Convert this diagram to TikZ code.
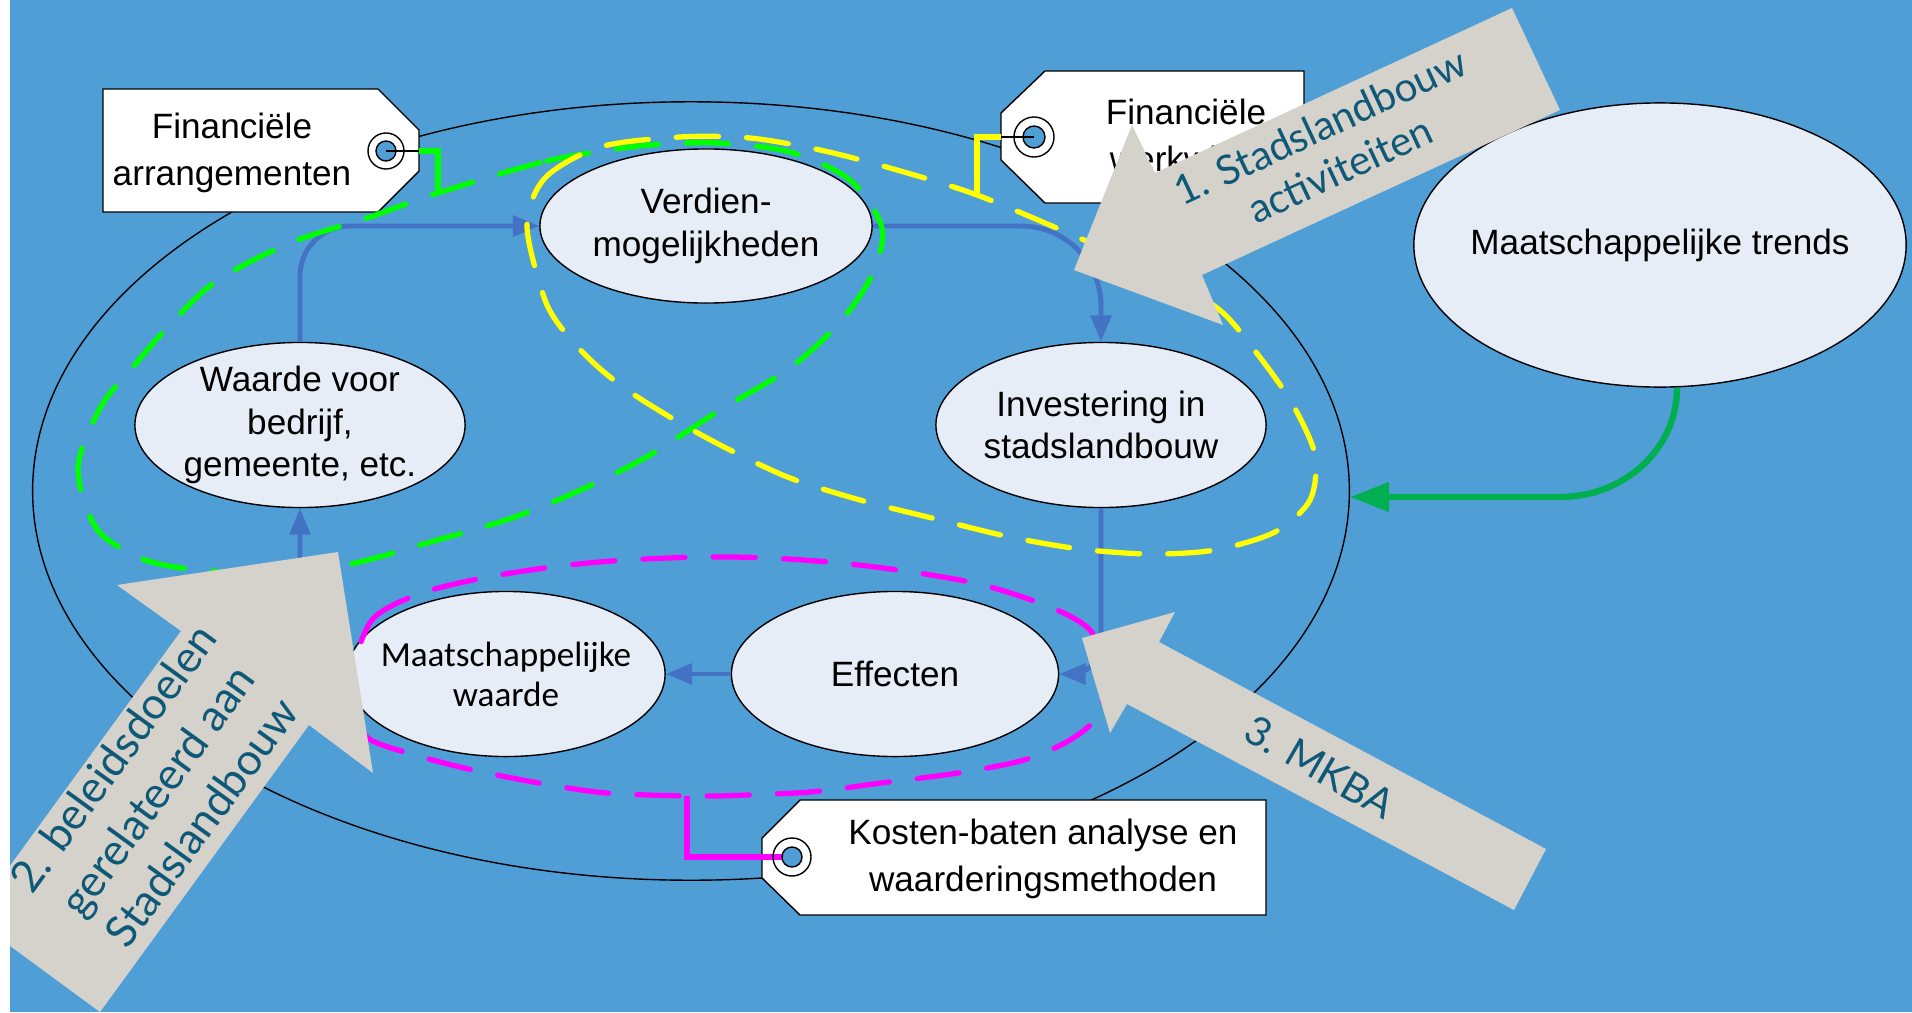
\documentclass[tikz,border=0pt]{standalone}
\usepackage{fontspec}
\setmainfont{Liberation Sans}
\newfontfamily\calibrifont{Carlito}
\newfontfamily\pijlfont{Lato}
\usetikzlibrary{shapes.geometric,arrows.meta}

\definecolor{achtergrond}{RGB}{80,158,214}
\definecolor{bolvulling}{RGB}{231,237,247}
\definecolor{pijlgrijs}{RGB}{212,210,202}
\definecolor{pijltekst}{RGB}{14,88,120}
\definecolor{stroomblauw}{RGB}{68,114,196}
\definecolor{trendgroen}{RGB}{0,176,80}
\definecolor{lusgroen}{RGB}{0,255,0}
\definecolor{lusgeel}{RGB}{255,255,0}
\definecolor{lusroze}{RGB}{255,0,255}

\begin{document}
\begin{tikzpicture}[x=0.01cm, y=-0.01cm,
        bol/.style={ellipse, draw=black, line width=0.4pt, fill=bolvulling, inner sep=-8pt, align=center, font=\fontsize{10}{12}\selectfont},
        stroom/.style={draw=stroomblauw, line width=1.4pt, -{Triangle[width=5.8pt,length=7.5pt]}},
        lus/.style={line width=1.5pt, dash pattern=on 12pt off 8pt, line cap=round},
        touw/.style={line width=1.5pt},
        kaart/.style={draw=black, line width=0.4pt, fill=white},
        kaarttekst/.style={align=center, font=\fontsize{10}{13.2}\selectfont},
        pijltxt/.style={align=center, text=pijltekst, font=\pijlfont\fontsize{11.5}{13.5}\selectfont}]
        \useasboundingbox (0,0) rectangle (1912,1012);
        \fill[achtergrond] (10,0) rectangle (1912,1012);

        \node[ellipse, draw=black, line width=0.4pt, inner sep=0pt, minimum width=13.16cm, minimum height=7.78cm] (kringloop) at (691,491) {}; % grote kringloop

        % labels
        \draw[kaart] (103,89) -- (378,89) -- (419,130) -- (419,171) -- (378,212) -- (103,212) -- cycle;
        \node[kaarttekst] (arrangementen) at (232,153) {Financiële\\arrangementen};
        \coordinate (gatA) at (386,151);
        \coordinate (randA) at (419,151);
        \draw (gatA) circle (0.18cm);
        \draw[fill=achtergrond] (gatA) circle (0.1cm);
        \draw (gatA) -- (randA);

        \draw[kaart] (1045,71) -- (1304,71) -- (1304,203) -- (1045,203) -- (1001,160) -- (1001,113) -- cycle;
        \node[kaarttekst] (werkwijze) at (1186,139) {Financiële\\werkwijze};
        \coordinate (gatB) at (1034,137);
        \coordinate (randB) at (1001,137);
        \draw (gatB) circle (0.2cm);
        \draw[fill=achtergrond] (gatB) circle (0.11cm);
        \draw (gatB) -- (randB);

        \draw[kaart] (800,800) -- (1266,800) -- (1266,915) -- (800,915) -- (762,878) -- (762,838) -- cycle;
        \node[kaarttekst] (kostenbaten) at (1043,859) {Kosten-baten analyse en\\waarderingsmethoden};
        \coordinate (gatC) at (792,857);
        \coordinate (magjoin) at (687,796);
        \draw[touw, lusroze] (magjoin) |- (gatC);
        \draw (gatC) circle (0.19cm);
        \draw[fill=achtergrond] (gatC) circle (0.1cm);

        % kringloop
        \node[bol, minimum width=3.32cm, minimum height=1.54cm] (verdien) at (706,226) {Verdien-\\mogelijkheden};
        \node[bol, minimum width=3.3cm, minimum height=1.65cm] (waarde) at (300,425) {Waarde voor\\bedrijf,\\gemeente, etc.};
        \node[bol, minimum width=3.3cm, minimum height=1.65cm] (invest) at (1101,425) {Investering in\\stadslandbouw};
        \node[bol, minimum width=3.18cm, minimum height=1.65cm, font=\calibrifont\fontsize{10}{11.4}\selectfont] (mwaarde) at (506,674) {Maatschappelijke\\waarde};
        \node[bol, minimum width=3.27cm, minimum height=1.65cm] (effect) at (895,674) {Effecten};
        \node[bol, minimum width=4.92cm, minimum height=2.84cm] (trends) at (1660,245) {Maatschappelijke trends};

        \draw[stroom, rounded corners=0.5cm] (waarde.north) |- (verdien.west);
        \draw[stroom, rounded corners=0.8cm] (verdien.east) -| (invest.north);
        \draw[stroom, rounded corners=0.3cm] (invest.south) |- (effect.east);
        \draw[stroom] (effect.west) -- (mwaarde.east);
        \draw[stroom, rounded corners=0.3cm] (mwaarde.west) -| (waarde.south);

        % gestippelde lussen
        \coordinate (groenjoin) at (438,193);
        \coordinate (geeljoin) at (977,195);
        \draw[lus, lusgroen] plot[smooth cycle] coordinates {(438,193) (547,161) (640,146) (716,143) (790,152) (850,180) (882,228) (872,275) (840,322) (790,368) (720,410) (650,455) (585,488) (512,518) (427,543) (350,564) (260,574) (182,568) (140,558) (102,535) (85,505) (78,470) (85,440) (105,400) (133,367) (165,330) (215,282) (290,243) (370,217)};
        \draw[touw, lusgroen] (randA) -| (groenjoin);
        \draw[lus, lusgeel] plot[smooth cycle] coordinates {(527,226) (545,178) (600,147) (680,137) (750,138) (820,150) (890,168) (977,195) (1084,240) (1170,280) (1222,312) (1262,360) (1293,405) (1315,455) (1310,500) (1275,532) (1215,550) (1150,554) (1080,549) (1010,537) (940,520) (860,500) (790,478) (730,450) (680,423) (630,392) (597,366) (567,335) (545,300)};
        \draw[touw, lusgeel] (randB) -| (geeljoin);
        \draw[lus, lusroze] plot[smooth cycle] coordinates {(350,680) (372,620) (422,593) (488,577) (560,566) (626,560) (703,557) (769,558) (840,563) (912,572) (983,585) (1050,607) (1090,630) (1106,670) (1098,715) (1070,740) (1024,760) (958,773) (881,783) (810,792) (720,796) (687,796) (606,793) (539,783) (473,770) (422,757) (371,740) (352,715)};

        % trends naar kringloop
        \coordinate (bocht) at (1560,497);
        \draw[trendgroen, line width=1.8pt, -{Triangle[width=8pt,length=11pt]}] ([xshift=0.17cm]trends.south) to[out=-90,in=0] (bocht) -- ([yshift=-0.06cm]kringloop.east);

        % grote pijlen
        \fill[pijlgrijs] (1512,8) -- (1155,173) -- (1132,125) -- (1074,270) -- (1223,325) -- (1202,275) -- (1560,110) -- cycle;
        \node[pijltxt, rotate=25] (stap1) at (1330,148) {1. Stadslandbouw\\activiteiten};
        \fill[pijlgrijs] (338,552) -- (373,773) -- (309,725) -- (100,1012) -- (-28,918) -- (181,631) -- (117,585) -- cycle;
        \node[pijltxt, rotate=54, font=\pijlfont\fontsize{12.5}{15.5}\selectfont] (stap2) at (157,790) {2. beleidsdoelen\\gerelateerd aan\\Stadslandbouw};
        \fill[pijlgrijs] (1082,638) -- (1175,612) -- (1159,642) -- (1546,849) -- (1514,910) -- (1127,704) -- (1110,733) -- cycle;
        \node[pijltxt, rotate=-30] (stap3) at (1320,767) {3. MKBA};

        \fill[white] (0,0) rectangle (10,1012);
\end{tikzpicture}
\end{document}
